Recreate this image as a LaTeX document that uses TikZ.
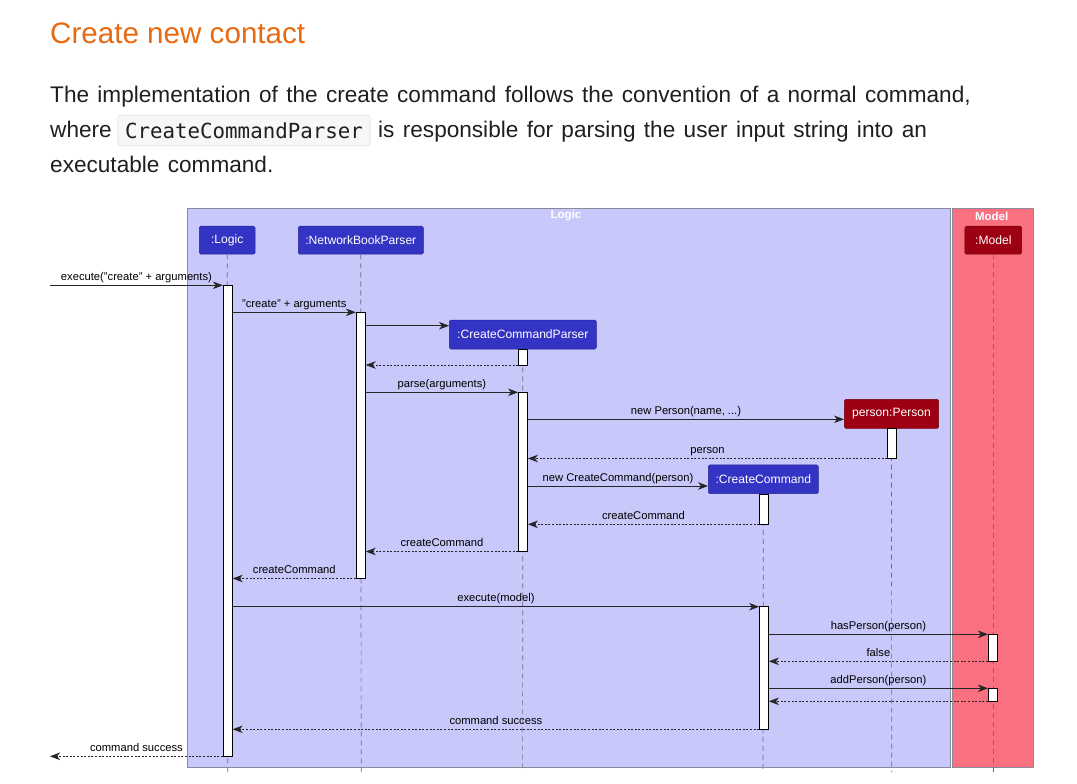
\documentclass[tikz,border=0pt]{standalone}
\usepackage{fontspec}
\setmainfont{Liberation Sans}
\newfontfamily\bodyf{Liberation Sans}[WordSpace=1.33]
\newfontfamily\monof{DejaVu Sans Mono}
\usetikzlibrary{arrows.meta,calc}
\definecolor{logicc}{HTML}{3333C4}
\definecolor{logict}{HTML}{C8C8FA}
\definecolor{modelc}{HTML}{9D0012}
\definecolor{modelt}{HTML}{F97181}
\definecolor{titlec}{HTML}{E86A10}
\definecolor{bodyc}{HTML}{1F1F1F}
\definecolor{codebg}{HTML}{F6F7F8}
\definecolor{codeln}{HTML}{E1E3E6}
\definecolor{boxln}{HTML}{8A8A9A}
\definecolor{lifec}{HTML}{6E6E7A}
\begin{document}
\begin{tikzpicture}[x=1pt,y=-1pt,
  lpart/.style={fill=logicc, draw=logicc!75!black, rounded corners=1.5pt, text=white,
    font=\fontsize{12.1}{14}\selectfont, minimum height=28pt, inner xsep=4pt, inner ysep=0pt, line width=0.5pt},
  mpart/.style={lpart, fill=modelc, draw=modelc!75!black},
  actbar/.style={draw=black, fill=white, minimum width=9pt, inner sep=0pt, line width=0.8pt},
  lifeline/.style={draw=lifec, dash pattern=on 5pt off 4pt, line width=0.7pt},
  msg/.style={draw=black!85, line width=0.8pt, -{Stealth[length=10pt,width=7.5pt,inset=3pt]}},
  ret/.style={msg, dash pattern=on 2pt off 1.6pt},
  mlabel/.style={font=\fontsize{11.2}{13}\selectfont, text=black, inner sep=0pt, anchor=base, yshift=5pt},
  frametitle/.style={font=\bfseries\fontsize{11.5}{13}\selectfont, text=white, inner sep=0pt},
  bodytext/.style={font=\bodyf\fontsize{22.6}{26}\selectfont, text=bodyc, anchor=base west, inner sep=0pt},
]
\useasboundingbox (0,0) rectangle (1077,784);
\fill[white] (0,0) rectangle (1077,784);

% ---- text above the diagram
\node[font=\fontsize{29.6}{34}\selectfont, text=titlec, anchor=base west, inner sep=0pt] (title) at (50,43.5) {Create new contact};
\node[bodytext] (line1) at (50,102.5) {The implementation of the create command follows the convention of a normal command,};
\node[bodytext] (line2a) at (50,137) {where};
\node[draw=codeln, fill=codebg, rounded corners=3pt, line width=0.8pt, minimum width=252pt, minimum height=30.5pt, inner sep=0pt,
  font=\monof\fontsize{20.8}{24}\selectfont, text=bodyc] (code) at (244,130.4) {CreateCommandParser};
\node[bodytext] (line2b) at (378,137) {is responsible for parsing the user input string into an};
\node[bodytext] (line3) at (50,172.5) {executable command.};

% ---- group frames
\draw[fill=logict, draw=boxln, line width=0.8pt] (187.7,208.3) rectangle (950.5,767.3);
\node[frametitle] (logicT) at (566,216) {Logic};
\draw[fill=modelt, draw=boxln, line width=0.8pt] (952.5,208.3) rectangle (1033.5,767.3);
\node[frametitle] (modelT) at (991.7,216) {Model};

% ---- participants
\node[lpart, minimum width=55.7pt] (pL) at (227.2,240.2) {:Logic};
\node[lpart, minimum width=125pt] (pN) at (360.8,240.2) {:NetworkBookParser};
\node[mpart, minimum width=56.7pt] (pM) at (993.3,240.2) {:Model};
\node[lpart, minimum width=147pt, minimum height=29pt] (pC) at (522.8,334.5) {:CreateCommandParser};
\node[mpart, minimum width=94.4pt, minimum height=29pt] (pP) at (891.5,413.8) {person:Person};
\node[lpart, minimum width=110pt, minimum height=28.7pt] (pX) at (763.3,479.3) {:CreateCommand};

% ---- lifelines
\coordinate (eL) at (227.7,772);
\coordinate (eN) at (361.2,772);
\coordinate (eM) at (993.3,772);
\coordinate (eC) at (522.6,772);
\coordinate (eP) at (891.7,772);
\coordinate (eX) at (763.0,772);
\draw[lifeline] (pL.south) -- (eL);
\draw[lifeline] (pN.south) -- (eN);
\draw[lifeline] (pM.south) -- (eM);
\draw[lifeline] (pC.south) -- (eC);
\draw[lifeline] (pP.south) -- (eP);
\draw[lifeline] (pX.south) -- (eX);

% ---- activation bars
\node[actbar, minimum height=471pt] (bL) at (227.8,520.8) {};
\node[actbar, minimum height=266.2pt] (bN) at (360.8,445.6) {};
\node[actbar, minimum height=16pt] (bC1) at (523,357) {};
\node[actbar, minimum height=159.4pt] (bC2) at (523,472) {};
\node[actbar, minimum height=30.4pt] (bP) at (892,443.5) {};
\node[actbar, minimum height=30.3pt] (bX1) at (764,509.15) {};
\node[actbar, minimum height=122.6pt] (bX2) at (764,668) {};
\node[actbar, minimum height=27pt] (bM1) at (992.8,647.8) {};
\node[actbar, minimum height=13pt] (bM2) at (992.8,694.8) {};

% ---- messages
\coordinate (inE) at (50,285.3);
\coordinate (outE) at (50,756.3);
\draw[msg] (inE) -- node[mlabel]{execute("create" + arguments)} (bL.west |- inE);
\draw[msg] (bL.east |- 0,312.3) -- node[mlabel]{"create" + arguments} (bN.west |- 0,312.3);
\draw[msg] (bN.east |- 0,325.7) -- (pC.west |- 0,325.7);
\draw[ret] (bC1.west |- 0,365) -- (bN.east |- 0,365);
\draw[msg] (bN.east |- 0,392.3) -- node[mlabel]{parse(arguments)} (bC2.west |- 0,392.3);
\draw[msg] (bC2.east |- 0,419.3) -- node[mlabel]{new Person(name, ...)} (pP.west |- 0,419.3);
\draw[ret] (bP.west |- 0,458.5) -- node[mlabel]{person} (bC2.east |- 0,458.5);
\draw[msg] (bC2.east |- 0,486) -- node[mlabel]{new CreateCommand(person)} (pX.west |- 0,486);
\draw[ret] (bX1.west |- 0,524.3) -- node[mlabel]{createCommand} (bC2.east |- 0,524.3);
\draw[ret] (bC2.west |- 0,551.5) -- node[mlabel]{createCommand} (bN.east |- 0,551.5);
\draw[ret] (bN.west |- 0,578.5) -- node[mlabel]{createCommand} (bL.east |- 0,578.5);
\draw[msg] (bL.east |- 0,606.7) -- node[mlabel]{execute(model)} (bX2.west |- 0,606.7);
\draw[msg] (bX2.east |- 0,634.3) -- node[mlabel]{hasPerson(person)} (bM1.west |- 0,634.3);
\draw[ret] (bM1.west |- 0,661.3) -- node[mlabel]{false} (bX2.east |- 0,661.3);
\draw[msg] (bX2.east |- 0,688.3) -- node[mlabel]{addPerson(person)} (bM2.west |- 0,688.3);
\draw[ret] (bM2.west |- 0,701.3) -- (bX2.east |- 0,701.3);
\draw[ret] (bX2.west |- 0,729.3) -- node[mlabel]{command success} (bL.east |- 0,729.3);
\draw[ret] (bL.west |- outE) -- node[mlabel]{command success} (outE);
\end{tikzpicture}
\end{document}
